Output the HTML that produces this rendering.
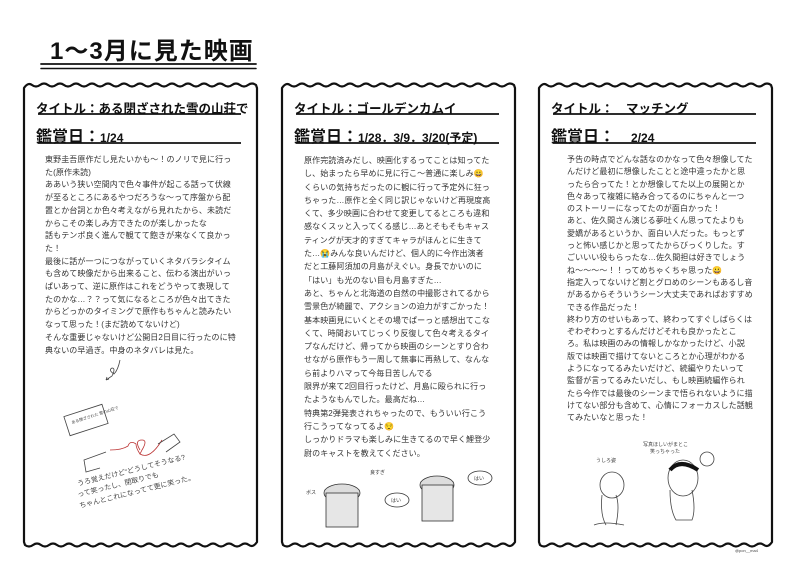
<!DOCTYPE html>
<html><head><meta charset="utf-8"><style>
html,body{margin:0;padding:0;background:#fff;}
body{width:799px;height:565px;position:relative;overflow:hidden;font-family:"Liberation Sans","Noto Sans CJK JP",sans-serif;}
.t{position:absolute;font-size:8px;color:#333;white-space:nowrap;letter-spacing:0.1px;}
.h{position:absolute;font-weight:bold;color:#111;white-space:nowrap;}
svg{position:absolute;left:0;top:0;}
</style></head><body>
<svg width="799" height="565" viewBox="0 0 799 565">
<g fill="none" stroke="#111" stroke-linecap="round">
<line x1="41" y1="64" x2="256" y2="64" stroke-width="1.8"/>
<line x1="41" y1="68.5" x2="256" y2="68.5" stroke-width="1.5"/>
</g>
<g id="frames" fill="none" stroke="#111" stroke-width="2.2" stroke-linejoin="round">
<path d="M24 88 q4 -6 8 -3 t8 0 t8 0 t8 0 t8 0 t8 0 t8 0 t8 0 t8 0 t8 0 t8 0 t8 0 t8 0 t8 0 t8 0 t8 0 t8 0 t8 0 t8 0 t8 0 t8 0 t8 0 t8 0 t8 0 t8 0 t8 0 t8 0 t8 0 t8 0 L257 88 L257 542 q-4 6 -8 3 t-8 0 t-8 0 t-8 0 t-8 0 t-8 0 t-8 0 t-8 0 t-8 0 t-8 0 t-8 0 t-8 0 t-8 0 t-8 0 t-8 0 t-8 0 t-8 0 t-8 0 t-8 0 t-8 0 t-8 0 t-8 0 t-8 0 t-8 0 t-8 0 t-8 0 t-8 0 t-8 0 t-8 0 L24 542 Z"/>
<path d="M282 88 q4 -6 8 -3 t8 0 t8 0 t8 0 t8 0 t8 0 t8 0 t8 0 t8 0 t8 0 t8 0 t8 0 t8 0 t8 0 t8 0 t8 0 t8 0 t8 0 t8 0 t8 0 t8 0 t8 0 t8 0 t8 0 t8 0 t8 0 t8 0 t8 0 t8 0 L515 88 L515 542 q-4 6 -8 3 t-8 0 t-8 0 t-8 0 t-8 0 t-8 0 t-8 0 t-8 0 t-8 0 t-8 0 t-8 0 t-8 0 t-8 0 t-8 0 t-8 0 t-8 0 t-8 0 t-8 0 t-8 0 t-8 0 t-8 0 t-8 0 t-8 0 t-8 0 t-8 0 t-8 0 t-8 0 t-8 0 t-8 0 L282 542 Z"/>
<path d="M539 88 q4 -6 8 -3 t8 0 t8 0 t8 0 t8 0 t8 0 t8 0 t8 0 t8 0 t8 0 t8 0 t8 0 t8 0 t8 0 t8 0 t8 0 t8 0 t8 0 t8 0 t8 0 t8 0 t8 0 t8 0 t8 0 t8 0 t8 0 t8 0 t8 0 t8 0 L772 88 L772 542 q-4 6 -8 3 t-8 0 t-8 0 t-8 0 t-8 0 t-8 0 t-8 0 t-8 0 t-8 0 t-8 0 t-8 0 t-8 0 t-8 0 t-8 0 t-8 0 t-8 0 t-8 0 t-8 0 t-8 0 t-8 0 t-8 0 t-8 0 t-8 0 t-8 0 t-8 0 t-8 0 t-8 0 t-8 0 t-8 0 L539 542 Z"/>
</g>
<g stroke="#111" stroke-width="1.8">
<line x1="38" y1="114" x2="241" y2="114"/><line x1="38" y1="143" x2="241" y2="143"/>
<line x1="296" y1="114" x2="499" y2="114"/><line x1="296" y1="143" x2="499" y2="143"/>
<line x1="553" y1="114" x2="756" y2="114"/><line x1="553" y1="143" x2="756" y2="143"/>
</g>
<g fill="none" stroke="#444" stroke-width="0.8">
<path d="M120 360 q-2 10 -6 14 q-6 -4 -2 -6 q4 0 0 8 l-6 4 m0 0 l3 -1 m-3 1 l1 -3"/>
<rect x="66" y="410" width="40" height="20" transform="rotate(-18 86 420)"/>
<path d="M140 450 q-6 -10 2 -10 q6 0 0 10 l-2 4 q-4 -6 -4 -10 q-6 -4 -8 2 q-6 4 -18 4" stroke="#b33"/>
<path d="M140 454 q10 6 22 -14" stroke="#b33"/>
<path d="M106 452 l-22 8 l2 12 l14 -4 M158 444 l16 -10 l6 8 l-14 10"/>
</g>
<g font-size="7" fill="#444" font-family="Liberation Sans,Noto Sans CJK JP,sans-serif">
<text x="78" y="486" transform="rotate(-14 78 486)">うろ覚えだけど“どうしてそうなる?</text>
<text x="78" y="497" transform="rotate(-14 78 497)">って笑ったし、閉取りでも</text>
<text x="80" y="508" transform="rotate(-14 80 508)">ちゃんとこれになってて更に笑った。</text>
<text x="72" y="424" font-size="4" transform="rotate(-18 72 424)">ある閉ざされた 雪の山荘で</text>
</g>
<g fill="#ddd" stroke="#333" stroke-width="0.8">
<ellipse cx="342" cy="493" rx="18" ry="9"/><rect x="326" y="493" width="32" height="34" fill="#e6e6e6"/>
<ellipse cx="437" cy="485" rx="17" ry="9"/><rect x="422" y="485" width="31" height="36" fill="#e6e6e6"/>
<ellipse cx="480" cy="478" rx="12" ry="7" fill="#fff"/><ellipse cx="397" cy="500" rx="12" ry="7" fill="#fff"/>
</g>
<g font-size="5" fill="#333"><text x="474" y="480">はい</text><text x="391" y="502">はい</text><text x="370" y="474">良すぎ</text><text x="306" y="494">ボス</text></g>
<g fill="none" stroke="#444" stroke-width="0.8">
<ellipse cx="612" cy="485" rx="12" ry="13"/><path d="M602 495 q-2 20 4 30 m10 -30 q4 10 0 30 m-22 0 q10 -4 30 0"/>
<ellipse cx="683" cy="478" rx="15" ry="18"/><path d="M670 490 q0 20 6 30 h16 q4 -10 0 -30"/>
<circle cx="707" cy="459" r="7"/>
</g>
<path d="M670 470 q10 -12 28 0" stroke="#111" stroke-width="4" fill="none"/>
<g font-size="5" fill="#444"><text x="596" y="462">うしろ姿</text><text x="643" y="446">写真ほしいがまとこ</text><text x="650" y="453">笑っちゃった</text><text x="735" y="552" font-size="4">@pon__ma4</text></g>
</svg>

<div class="h" style="left:50px;top:31px;font-size:24px;letter-spacing:1px;">1〜3月に見た映画</div>

<div class="h" style="left:36px;top:98px;font-size:12.5px;">タイトル：ある閉ざされた雪の山荘で</div>
<div class="h" style="left:36px;top:123px;font-size:16px;">鑑賞日：<span style="font-size:12px">1/24</span></div>
<div class="h" style="left:294px;top:98px;font-size:12.5px;">タイトル：ゴールデンカムイ</div>
<div class="h" style="left:294px;top:123px;font-size:16px;">鑑賞日：<span style="font-size:12px">1/28．3/9．3/20(予定)</span></div>
<div class="h" style="left:551px;top:98px;font-size:12.5px;">タイトル：　マッチング</div>
<div class="h" style="left:551px;top:123px;font-size:16px;">鑑賞日：　<span style="font-size:12px">2/24</span></div>

<div class="t" style="left:45px;top:154px;line-height:12.7px;">東野圭吾原作だし見たいかも〜！のノリで見に行っ<br>た(原作未読)<br>ああいう狭い空間内で色々事件が起こる話って伏線<br>が至るところにあるやつだろうな〜って序盤から配<br>置とか台詞とか色々考えながら見れたから、未読だ<br>からこその楽しみ方できたのが楽しかったな<br>話もテンポ良く進んで観てて飽きが来なくて良かっ<br>た！<br>最後に話が一つにつながっていくネタバラシタイム<br>も含めて映像だから出来ること、伝わる演出がいっ<br>ぱいあって、逆に原作はこれをどうやって表現して<br>たのかな…？？って気になるところが色々出てきた<br>からどっかのタイミングで原作もちゃんと読みたい<br>なって思った！(まだ読めてないけど)<br>そんな重要じゃないけど公開日2日目に行ったのに特<br>典ないの早過ぎ。中身のネタバレは見た。</div>

<div class="t" style="left:304px;top:154px;line-height:13.3px;">原作完読済みだし、映画化するってことは知ってた<br>し、始まったら早めに見に行こ〜普通に楽しみ😀<br>くらいの気持ちだったのに観に行って予定外に狂っ<br>ちゃった…原作と全く同じ訳じゃないけど再現度高<br>くて、多少映画に合わせて変更してるところも違和<br>感なくスッと入ってくる感じ…あとそもそもキャス<br>ティングが天才的すぎてキャラがほんとに生きて<br>た…😭みんな良いんだけど、個人的に今作出演者<br>だと工藤阿須加の月島がえぐい。身長でかいのに<br>「はい」も光のない目も月島すぎた…<br>あと、ちゃんと北海道の自然の中撮影されてるから<br>雪景色が綺麗で、アクションの迫力がすごかった！<br>基本映画見にいくとその場でぱーっと感想出てこな<br>くて、時間おいてじっくり反復して色々考えるタイ<br>プなんだけど、帰ってから映画のシーンとすり合わ<br>せながら原作もう一周して無事に再熱して、なんな<br>ら前よりハマって今毎日苦しんでる<br>限界が来て2回目行ったけど、月島に殴られに行っ<br>たようなもんでした。最高だね…<br>特典第2弾発表されちゃったので、もういい行こう<br>行こうってなってるよ😌<br>しっかりドラマも楽しみに生きてるので早く鯉登少<br>尉のキャストを教えてください。</div>

<div class="t" style="left:567px;top:154px;line-height:12.3px;">予告の時点でどんな話なのかなって色々想像してた<br>んだけど最初に想像したことと途中違ったかと思<br>ったら合ってた！とか想像してた以上の展開とか<br>色々あって複雑に絡み合ってるのにちゃんと一つ<br>のストーリーになってたのが面白かった！<br>あと、佐久間さん演じる夢吐くん思ってたよりも<br>愛嬌があるというか、面白い人だった。もっとず<br>っと怖い感じかと思ってたからびっくりした。す<br>ごいいい役もらったな…佐久間担は好きでしょう<br>ね〜〜〜〜！！ってめちゃくちゃ思った😀<br>指定入ってないけど割とグロめのシーンもあるし音<br>があるからそういうシーン大丈夫であればおすすめ<br>できる作品だった！<br>終わり方のせいもあって、終わってすぐしばらくは<br>ぞわぞわっとするんだけどそれも良かったとこ<br>ろ。私は映画のみの情報しかなかったけど、小説<br>版では映画で描けてないところとか心理がわかる<br>ようになってるみたいだけど、続編やりたいって<br>監督が言ってるみたいだし、もし映画続編作られ<br>たら今作では最後のシーンまで悟られないように描<br>けてない部分も含めて、心情にフォーカスした話観<br>てみたいなと思った！</div>
</body></html>
